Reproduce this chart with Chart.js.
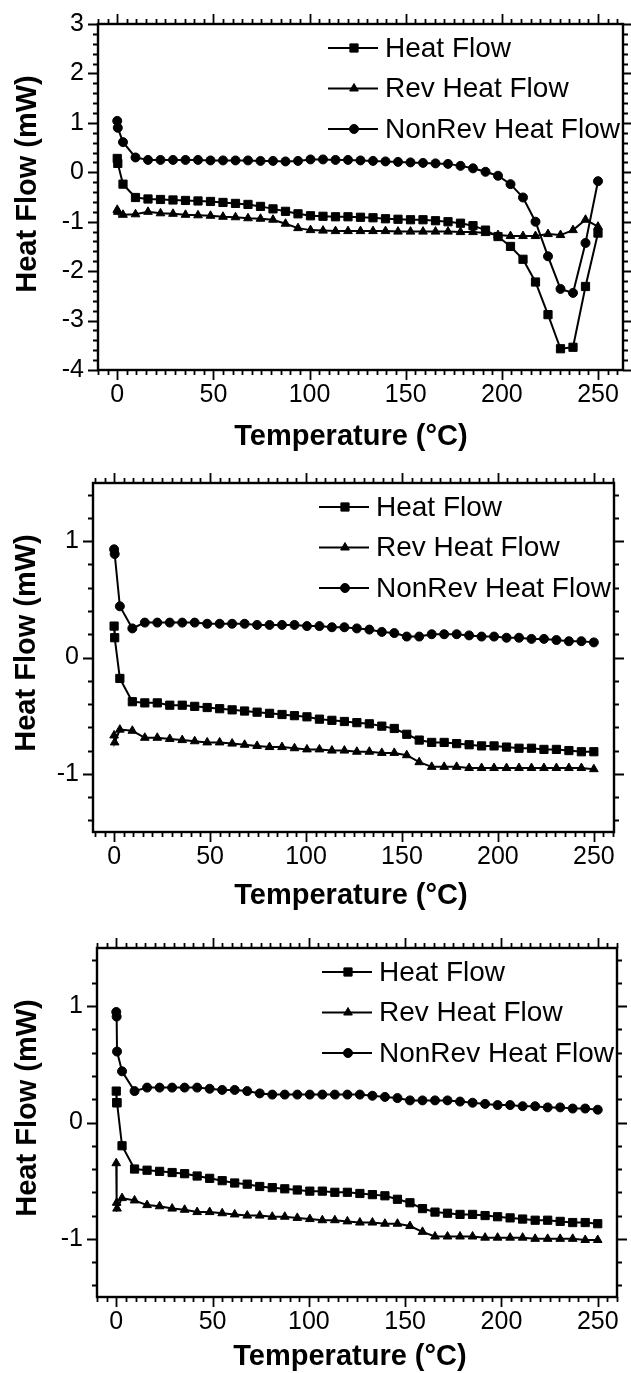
<!DOCTYPE html>
<html>
<head>
<meta charset="utf-8">
<script src="https://cdn.jsdelivr.net/npm/chart.js@4.4.1/dist/chart.umd.min.js"></script>
<style>
  html, body { margin: 0; padding: 0; background: #fff; }
  #wrap { position: relative; width: 631px; height: 1373px; overflow: hidden; background: #fff; }
  canvas { position: absolute; left: 0; }
</style>
</head>
<body>
<div id="wrap">
  <canvas id="c1" width="631" height="470" style="top:0px"></canvas>
  <canvas id="c2" width="631" height="470" style="top:455px"></canvas>
  <canvas id="c3" width="631" height="473" style="top:900px"></canvas>
</div>
<script>
// temperatures (°C) of the sampled points
const temps12 = [0, 0.3, 3, 9.5, 16, 22.5, 29, 35.5, 42, 48.5, 55, 61.5, 68, 74.5, 81, 87.5, 94, 100.5, 107, 113.5, 120,
  126.5, 133, 139.5, 146, 152.5, 159, 165.5, 172, 178.5, 185, 191.5, 198, 204.5, 211, 217.5, 224, 230.5, 237, 243.5, 250];
const temps3 = [0, 0.2, 0.4, 3, 9.5, 16, 22.5, 29, 35.5, 42, 48.5, 55, 61.5, 68, 74.5, 81, 87.5, 94, 100.5, 107, 113.5, 120,
  126.5, 133, 139.5, 146, 152.5, 159, 165.5, 172, 178.5, 185, 191.5, 198, 204.5, 211, 217.5, 224, 230.5, 237, 243.5, 250];

// panel 1 (mW)
const heat1 = [0.28, 0.18, -0.24, -0.51, -0.54, -0.55, -0.56, -0.57, -0.58, -0.59, -0.61, -0.63, -0.65, -0.69, -0.74, -0.79,
  -0.84, -0.88, -0.89, -0.90, -0.90, -0.91, -0.92, -0.94, -0.95, -0.96, -0.96, -0.98, -1.00, -1.03, -1.08, -1.17, -1.30,
  -1.50, -1.76, -2.22, -2.88, -3.57, -3.54, -2.31, -1.23];
const rev1 = [-0.76, -0.80, -0.86, -0.85, -0.80, -0.83, -0.84, -0.86, -0.87, -0.88, -0.90, -0.91, -0.93, -0.94, -0.96, -1.04,
  -1.13, -1.17, -1.18, -1.19, -1.19, -1.19, -1.19, -1.19, -1.20, -1.20, -1.20, -1.20, -1.20, -1.21, -1.21, -1.23, -1.27,
  -1.29, -1.29, -1.29, -1.25, -1.27, -1.17, -0.96, -1.10];
const nonrev1 = [1.04, 0.90, 0.61, 0.30, 0.25, 0.25, 0.25, 0.25, 0.25, 0.24, 0.24, 0.24, 0.24, 0.23, 0.23, 0.22, 0.23, 0.26,
  0.26, 0.25, 0.25, 0.24, 0.23, 0.22, 0.21, 0.20, 0.19, 0.18, 0.17, 0.13, 0.08, 0.01, -0.07, -0.24, -0.51, -1.00, -1.70,
  -2.36, -2.44, -1.43, -0.18];

// panel 2 (mW)
const heat2 = [0.27, 0.17, -0.18, -0.38, -0.39, -0.39, -0.41, -0.41, -0.42, -0.43, -0.44, -0.45, -0.46, -0.47, -0.48, -0.49,
  -0.50, -0.51, -0.53, -0.54, -0.55, -0.56, -0.57, -0.59, -0.61, -0.66, -0.71, -0.73, -0.73, -0.74, -0.75, -0.76, -0.76,
  -0.77, -0.78, -0.78, -0.79, -0.79, -0.80, -0.81, -0.81];
const rev2 = [-0.67, -0.73, -0.62, -0.63, -0.69, -0.69, -0.70, -0.71, -0.72, -0.73, -0.73, -0.74, -0.75, -0.76, -0.77, -0.77,
  -0.78, -0.79, -0.79, -0.80, -0.80, -0.81, -0.81, -0.82, -0.82, -0.84, -0.90, -0.94, -0.94, -0.94, -0.95, -0.95, -0.95,
  -0.95, -0.95, -0.95, -0.95, -0.95, -0.95, -0.95, -0.96];
const nonrev2 = [0.93, 0.89, 0.44, 0.25, 0.30, 0.30, 0.30, 0.30, 0.30, 0.29, 0.29, 0.29, 0.29, 0.28, 0.28, 0.28, 0.28, 0.27,
  0.27, 0.26, 0.26, 0.25, 0.24, 0.22, 0.21, 0.18, 0.18, 0.20, 0.20, 0.20, 0.19, 0.18, 0.18, 0.17, 0.17, 0.16, 0.16, 0.15,
  0.14, 0.14, 0.13];

// panel 3 (mW)
const heat3 = [0.27, 0.17, 0.17, -0.20, -0.40, -0.41, -0.42, -0.43, -0.44, -0.46, -0.48, -0.50, -0.52, -0.53, -0.55, -0.56,
  -0.57, -0.58, -0.59, -0.59, -0.60, -0.60, -0.61, -0.62, -0.63, -0.66, -0.69, -0.74, -0.77, -0.78, -0.79, -0.79, -0.80,
  -0.81, -0.82, -0.83, -0.84, -0.84, -0.85, -0.86, -0.86, -0.87];
const rev3 = [-0.35, -0.69, -0.74, -0.65, -0.67, -0.71, -0.72, -0.74, -0.75, -0.77, -0.77, -0.78, -0.79, -0.80, -0.80, -0.81,
  -0.81, -0.82, -0.83, -0.84, -0.84, -0.85, -0.86, -0.86, -0.87, -0.87, -0.89, -0.94, -0.98, -0.98, -0.98, -0.98, -0.99,
  -0.99, -0.99, -0.99, -1.00, -1.00, -1.00, -1.00, -1.01, -1.01];
const nonrev3 = [0.95, 0.91, 0.61, 0.44, 0.27, 0.30, 0.30, 0.30, 0.30, 0.30, 0.29, 0.28, 0.28, 0.27, 0.25, 0.24, 0.24, 0.24,
  0.24, 0.24, 0.24, 0.24, 0.24, 0.23, 0.22, 0.21, 0.19, 0.19, 0.19, 0.19, 0.18, 0.17, 0.16, 0.15, 0.15, 0.14, 0.14, 0.13,
  0.13, 0.12, 0.12, 0.11];

const seriesNames = ['Heat Flow', 'Rev Heat Flow', 'NonRev Heat Flow'];
const markerStyles = ['rect', 'triangle', 'circle'];
const markerRadius = [5.8, 5, 4.5];

const xTickValues = [0, 50, 100, 150, 200, 250];
const yTicksTop = [-4, -3, -2, -1, 0, 1, 2, 3];
const yTicksLower = [-1, 0, 1];
const xMinorStep = 5;
const yMinorStep = 0.2;
const xTitleText = 'Temperature (°C)';
const yTitleText = 'Heat Flow (mW)';

const FONT = '"Liberation Sans", Arial, sans-serif';
Chart.defaults.font.family = FONT;
Chart.defaults.color = '#000';

// page layout of the three panels (chart area and title centres in page pixels)
const panels = [
  { id: 'c1', top: 0, h: 470, area: { l: 98, t: 24, r: 623, b: 370 }, xMin: -10, xMax: 263,
    yMin: -4, yMax: 3, yTicks: yTicksTop, temps: temps12, series: [heat1, rev1, nonrev1],
    xTitle: [351, 437], yTitle: [28, 184] },
  { id: 'c2', top: 455, h: 470, area: { l: 93, t: 483, r: 614, b: 832 }, xMin: -11, xMax: 260.5,
    yMin: -1.5, yMax: 1.5, yTicks: yTicksLower, temps: temps12, series: [heat2, rev2, nonrev2],
    xTitle: [351, 896], yTitle: [27, 643] },
  { id: 'c3', top: 900, h: 473, area: { l: 97, t: 948, r: 617, b: 1297 }, xMin: -10, xMax: 260,
    yMin: -1.5, yMax: 1.5, yTicks: yTicksLower, temps: temps3, series: [heat3, rev3, nonrev3],
    xTitle: [350, 1357], yTitle: [28, 1108] }
];

// box round the plot with outward major/minor ticks on all four sides
const frameTicks = {
  id: 'frameTicks',
  afterDraw(chart) {
    const { ctx, chartArea: a, scales: { x, y } } = chart;
    const cfg = chart.options.plugins.frameTicks;
    ctx.save();
    ctx.strokeStyle = '#000';
    ctx.lineWidth = 1.8;
    ctx.beginPath();
    for (let k = Math.ceil(x.min / xMinorStep); k * xMinorStep <= x.max + 1e-9; k++) {
      const v = k * xMinorStep;
      const len = xTickValues.includes(v) ? 10 : 5;
      const px = Math.round(x.getPixelForValue(v)) + 0.5;
      ctx.moveTo(px, a.bottom); ctx.lineTo(px, a.bottom + len);
      ctx.moveTo(px, a.top); ctx.lineTo(px, a.top - len);
    }
    for (let k = Math.ceil(y.min / yMinorStep - 1e-9); k * yMinorStep <= y.max + 1e-9; k++) {
      const v = Math.round(k * yMinorStep * 10) / 10;
      const len = cfg.majors.includes(v) ? 10 : 5;
      const py = Math.round(y.getPixelForValue(v)) + 0.5;
      ctx.moveTo(a.left, py); ctx.lineTo(a.left - len, py);
      ctx.moveTo(a.right, py); ctx.lineTo(a.right + len, py);
    }
    ctx.stroke();
    ctx.lineWidth = 2.4;
    ctx.strokeRect(a.left, a.top, a.right - a.left, a.bottom - a.top);
    ctx.restore();
  }
};

// axis titles, placed where the original figure has them
const axisTitles = {
  id: 'axisTitles',
  afterDraw(chart) {
    const { ctx } = chart;
    const cfg = chart.options.plugins.axisTitles;
    ctx.save();
    ctx.fillStyle = '#000';
    ctx.font = 'bold 29px ' + FONT;
    ctx.textAlign = 'center';
    ctx.textBaseline = 'middle';
    ctx.fillText(xTitleText, cfg.x[0], cfg.x[1] - cfg.top);
    ctx.translate(cfg.y[0], cfg.y[1] - cfg.top);
    ctx.rotate(-Math.PI / 2);
    ctx.fillText(yTitleText, 0, 0);
    ctx.restore();
  }
};

// legend inside the plot, top right: line + marker + name
const insetLegend = {
  id: 'insetLegend',
  afterDraw(chart) {
    const { ctx, chartArea: a } = chart;
    ctx.save();
    ctx.font = '28px ' + FONT;
    ctx.fillStyle = '#000';
    ctx.strokeStyle = '#000';
    ctx.textBaseline = 'middle';
    chart.data.datasets.forEach((ds, i) => {
      const yy = a.top + 24 + i * 40.5;
      const tx = a.right - 238;
      ctx.lineWidth = 1.8;
      ctx.beginPath();
      ctx.moveTo(tx - 57, yy); ctx.lineTo(tx - 7, yy);
      ctx.stroke();
      ctx.lineWidth = 1;
      Chart.helpers.drawPoint(ctx, { pointStyle: ds.pointStyle, radius: ds.pointRadius, rotation: 0, borderWidth: 1 }, tx - 31, yy);
      ctx.fillText(ds.label, tx, yy + 1);
    });
    ctx.restore();
  }
};

panels.forEach(p => {
  const el = document.getElementById(p.id);
  new Chart(el, {
    type: 'line',
    data: {
      datasets: seriesNames.map((name, i) => ({
        label: name,
        data: p.temps.map((t, k) => ({ x: t, y: p.series[i][k] })),
        borderColor: '#000',
        backgroundColor: '#000',
        borderWidth: 2,
        pointStyle: markerStyles[i],
        pointRadius: markerRadius[i],
        pointBorderWidth: 1,
        pointBackgroundColor: '#000',
        pointBorderColor: '#000',
        tension: 0
      }))
    },
    options: {
      responsive: false,
      animation: false,
      devicePixelRatio: 1,
      layout: { padding: { left: 0, right: 631 - p.area.r, top: p.area.t - p.top, bottom: 0 } },
      plugins: {
        legend: { display: false },
        tooltip: { enabled: false },
        frameTicks: { majors: p.yTicks },
        axisTitles: { x: p.xTitle, y: p.yTitle, top: p.top }
      },
      scales: {
        x: {
          type: 'linear',
          min: p.xMin,
          max: p.xMax,
          afterBuildTicks: s => { s.ticks = xTickValues.map(v => ({ value: v })); },
          afterFit: s => { s.height = p.h - (p.area.b - p.top); },
          grid: { drawOnChartArea: false, tickLength: 10, tickColor: 'rgba(0,0,0,0)' },
          border: { display: false },
          ticks: { color: '#000', font: { size: 25 }, padding: 0, maxRotation: 0, autoSkip: false }
        },
        y: {
          type: 'linear',
          min: p.yMin,
          max: p.yMax,
          afterBuildTicks: s => { s.ticks = p.yTicks.map(v => ({ value: v })); },
          afterFit: s => { s.width = p.area.l; },
          grid: { drawOnChartArea: false, tickLength: 10, tickColor: 'rgba(0,0,0,0)' },
          border: { display: false },
          ticks: { color: '#000', font: { size: 25 }, padding: 4, autoSkip: false }
        }
      }
    },
    plugins: [frameTicks, axisTitles, insetLegend]
  });
});
</script>
</body>
</html>
